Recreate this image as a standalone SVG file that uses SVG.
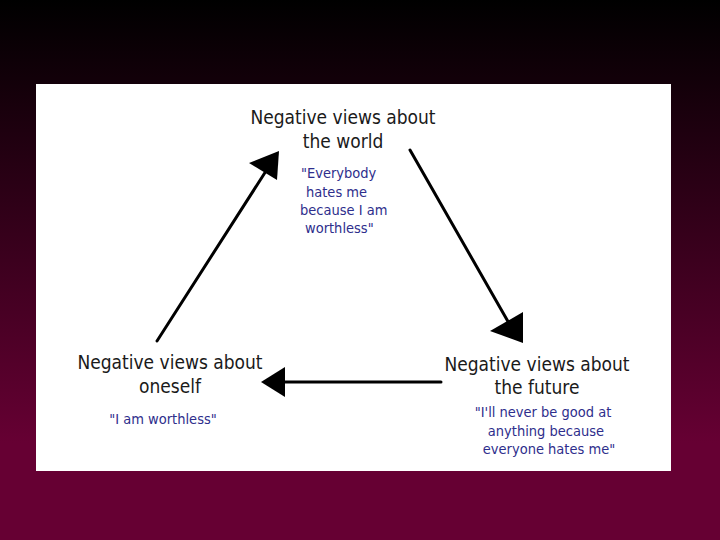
<svg xmlns="http://www.w3.org/2000/svg" width="720" height="540" viewBox="0 0 720 540">
<defs>
<linearGradient id="bg" x1="0" y1="0" x2="0" y2="1">
<stop offset="0" stop-color="#000000"/>
<stop offset="0.82" stop-color="#660033"/>
<stop offset="1" stop-color="#660033"/>
</linearGradient>
<style>
.t{font-family:"DejaVu Sans Condensed","Liberation Sans",sans-serif;font-size:19px;fill:#1a1a1a;text-anchor:middle}
.q{font-family:"DejaVu Sans Condensed","Liberation Sans",sans-serif;font-size:14.5px;fill:#2e2e8c}
.ln{stroke:#000;stroke-width:3;fill:none;stroke-linecap:round}
.hd{fill:#000}
</style>
</defs>
<rect width="720" height="540" fill="url(#bg)"/>
<rect x="36" y="84" width="635" height="387" fill="#ffffff"/>
<g id="node-world">
<text class="t" x="343" y="124">Negative views about</text>
<text class="t" x="343" y="148">the world</text>
<text class="q" x="301" y="178">"Everybody</text>
<text class="q" x="306" y="197">hates me</text>
<text class="q" x="300" y="215">because I am</text>
<text class="q" x="305" y="233">worthless"</text>
</g>
<g id="node-future">
<text class="t" x="537" y="371">Negative views about</text>
<text class="t" x="537" y="394">the future</text>
<text class="q" x="543" y="417" text-anchor="middle">"I'll never be good at</text>
<text class="q" x="546" y="436" text-anchor="middle">anything because</text>
<text class="q" x="549" y="454" text-anchor="middle">everyone hates me"</text>
</g>
<g id="node-oneself">
<text class="t" x="170" y="369">Negative views about</text>
<text class="t" x="170" y="393">oneself</text>
<text class="q" x="163" y="424" text-anchor="middle">"I am worthless"</text>
</g>
<g id="connectors">
<line class="ln" x1="157" y1="341" x2="266" y2="171"/>
<polygon class="hd" points="279,151 249,163 277,180"/>
<line class="ln" x1="410" y1="150" x2="510" y2="325"/>
<polygon class="hd" points="523,343 490,331 523,312"/>
<line class="ln" x1="441" y1="382" x2="280" y2="382"/>
<polygon class="hd" points="261,382 285,367 285,397"/>
</g>
</svg>
